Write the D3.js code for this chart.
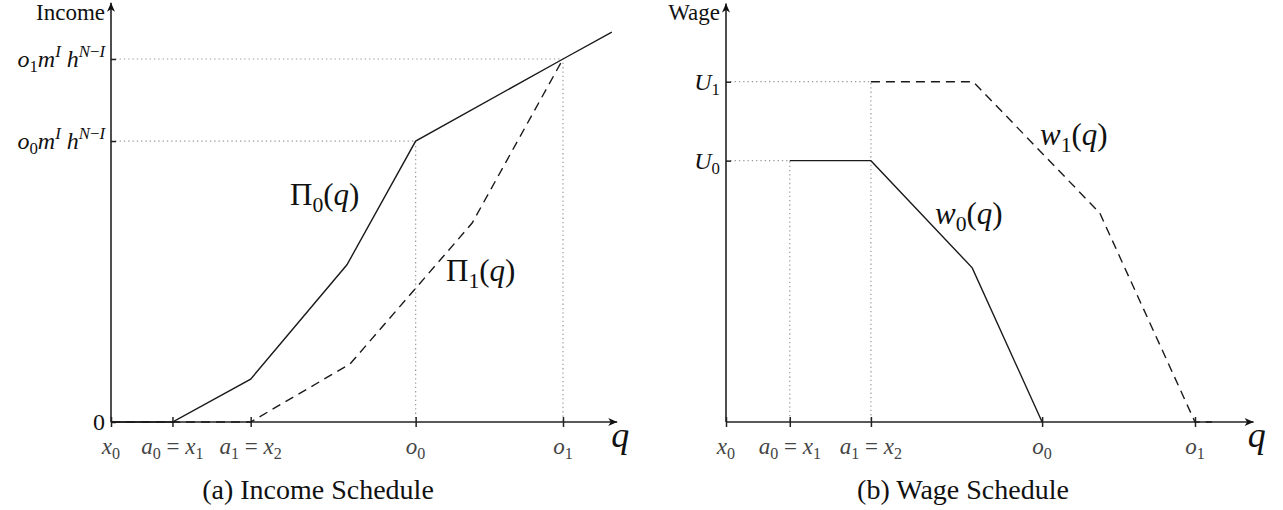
<!DOCTYPE html>
<html>
<head>
<meta charset="utf-8">
<script src="https://cdn.jsdelivr.net/npm/d3@7"></script>
<style>
  body { margin: 0; background: #fff; }
  text { font-family: "Liberation Serif", serif; fill: #111; white-space: pre; }
</style>
</head>
<body>
<div id="chart"></div>
<script>
const width = 1283;
const height = 510;

// q positions shared by both panels
const qTicks = [0, 13.6, 30.9, 67.4, 100];
const qLabels = ["x_0", "a_0 = x_1", "a_1 = x_2", "o_0", "o_1"];

// income panel
const incomeTicks = [0, 77.4, 100];
const incomeLabels = ["0", "o_0m^I h^{N−I}", "o_1m^I h^{N−I}"];
const pi0 = [[0, 0], [13.6, 0], [30.9, 11.8], [52.2, 43.3], [67.4, 77.4], [100, 100], [110.8, 107.4]];
const pi1 = [[0, 0], [30.9, 0], [52.9, 16], [79.9, 54.8], [100, 100]];

// wage panel
const wageTicks = [76.8, 100];
const wageLabels = ["U_0", "U_1"];
const w0 = [[13.6, 76.8], [30.9, 76.8], [52.5, 45.3], [67.4, 0]];
const w1 = [[30.9, 100], [52.7, 100], [79.7, 61.4], [100, 0], [103.6, 0]];

let svg = d3.select("#chart")
            .append("svg")
            .attr("width", width)
            .attr("height", height);

// tiny tex-like parser: _x / ^{..}, letters italic
function parseTex(s) {
  const out = [];
  function push(str, mode) {
    for (const ch of str) {
      const it = /[a-zA-Z]/.test(ch);
      const last = out[out.length - 1];
      if (last && last.mode === mode && last.it === it) last.t += ch;
      else out.push({t: ch, mode: mode, it: it});
    }
  }
  let i = 0;
  while (i < s.length) {
    const c = s[i];
    if (c === "_" || c === "^") {
      const mode = c === "_" ? "sub" : "sup";
      i++;
      let grp;
      if (s[i] === "{") {
        const j = s.indexOf("}", i);
        grp = s.slice(i + 1, j);
        i = j + 1;
      } else {
        grp = s[i];
        i++;
      }
      push(grp, mode);
    } else {
      push(c, null);
      i++;
    }
  }
  return out;
}

function mathText(g, str, x, y, size, anchor) {
  const t = g.append("text")
    .attr("x", x).attr("y", y)
    .attr("font-size", size)
    .attr("text-anchor", anchor || "start");
  let cur = 0;
  parseTex(str).forEach(s => {
    const target = s.mode === "sub" ? size * 0.22 : s.mode === "sup" ? -size * 0.42 : 0;
    t.append("tspan")
      .attr("dy", target - cur)
      .attr("font-size", s.mode ? size * 0.7 : size)
      .attr("font-style", s.it ? "italic" : "normal")
      .text(s.t);
    cur = target;
  });
  return t;
}

function arrowHead(g, x, y, angle) {
  g.append("path")
    .attr("d", "M0,0 L-9,-4 L-6.5,0 L-9,4 Z")
    .attr("transform", `translate(${x},${y}) rotate(${angle})`)
    .attr("fill", "#111");
}

function drawPanel(cfg) {
  const g = svg.append("g");
  const x = d3.scaleLinear().domain([0, 100]).range(cfg.xRange);
  const y = d3.scaleLinear().domain([0, 100]).range(cfg.yRange);
  const line = d3.line().x(d => x(d[0])).y(d => y(d[1]));

  // dotted guides
  g.selectAll(".guide")
    .data(cfg.guides)
    .enter()
    .append("path")
    .attr("d", d => line(d))
    .attr("fill", "none")
    .attr("stroke", "#999")
    .attr("stroke-width", 1.2)
    .attr("stroke-dasharray", "1.3,3");

  // axes
  g.append("line")
    .attr("x1", x(0)).attr("x2", x(cfg.qMax))
    .attr("y1", y(0)).attr("y2", y(0))
    .attr("stroke", "#222").attr("stroke-width", 1.6);
  arrowHead(g, x(cfg.qMax), y(0), 0);
  g.append("line")
    .attr("x1", x(0)).attr("x2", x(0))
    .attr("y1", y(0)).attr("y2", y(cfg.yMax))
    .attr("stroke", "#222").attr("stroke-width", 1.6);
  arrowHead(g, x(0), y(cfg.yMax), -90);

  const xAxis = g.append("g")
    .attr("transform", `translate(0,${y(0)})`)
    .call(d3.axisBottom(x).tickValues(qTicks).tickSize(5).tickFormat(""));
  xAxis.select(".domain").remove();
  xAxis.selectAll(".tick line").attr("y1", -5).attr("stroke", "#222").attr("stroke-width", 1.5);

  const yAxis = g.append("g")
    .attr("transform", `translate(${x(0)},0)`)
    .call(d3.axisLeft(y).tickValues(cfg.yTicks).tickSize(5).tickFormat(""));
  yAxis.select(".domain").remove();
  yAxis.selectAll(".tick line").attr("x2", 5).attr("stroke", "#222").attr("stroke-width", 1.5);

  // curves
  g.append("path").attr("d", line(cfg.solid))
    .attr("fill", "none").attr("stroke", "#1a1a1a").attr("stroke-width", 1.4);
  g.append("path").attr("d", line(cfg.dashed))
    .attr("fill", "none").attr("stroke", "#1a1a1a").attr("stroke-width", 1.4)
    .attr("stroke-dasharray", "9,6");

  // tick labels
  qTicks.forEach((q, i) => {
    mathText(g, qLabels[i], x(q), y(0) + 32, 23, "middle")
      .selectAll("tspan").style("fill", "#444");
  });
  cfg.yTicks.forEach((v, i) => {
    mathText(g, cfg.yLabels[i], x(0) - 6, y(v) + 8, 24, "end");
  });

  g.append("text")
    .attr("x", x(0) - 6).attr("y", 20)
    .attr("font-size", 23).attr("text-anchor", "end")
    .text(cfg.yTitle);
  mathText(g, "q", x(cfg.qMax) - 6, y(0) + 25, 36, "start");

  cfg.notes.forEach(n => mathText(g, n.text, n.x, n.y, 31, "start"));

  svg.append("text")
    .attr("x", cfg.captionX).attr("y", 499)
    .attr("font-size", 28).attr("text-anchor", "middle")
    .text(cfg.caption);
}

drawPanel({
  xRange: [111, 563], yRange: [422, 59],
  qMax: 112, yMax: 115.5,
  yTicks: incomeTicks, yLabels: incomeLabels, yTitle: "Income",
  solid: pi0, dashed: pi1,
  guides: [
    [[0, 100], [100, 100], [100, 0]],
    [[0, 77.4], [67.4, 77.4], [67.4, 0]]
  ],
  notes: [
    {text: "Π_0(q)", x: 290, y: 205},
    {text: "Π_1(q)", x: 446, y: 281}
  ],
  caption: "(a) Income Schedule", captionX: 318
});

drawPanel({
  xRange: [726, 1195], yRange: [422, 81.7],
  qMax: 112.5, yMax: 123,
  yTicks: wageTicks, yLabels: wageLabels, yTitle: "Wage",
  solid: w0, dashed: w1,
  guides: [
    [[0, 100], [30.9, 100], [30.9, 0]],
    [[0, 76.8], [13.6, 76.8], [13.6, 0]]
  ],
  notes: [
    {text: "w_1(q)", x: 1040, y: 145},
    {text: "w_0(q)", x: 935, y: 224}
  ],
  caption: "(b) Wage Schedule", captionX: 963
});
</script>
</body>
</html>
